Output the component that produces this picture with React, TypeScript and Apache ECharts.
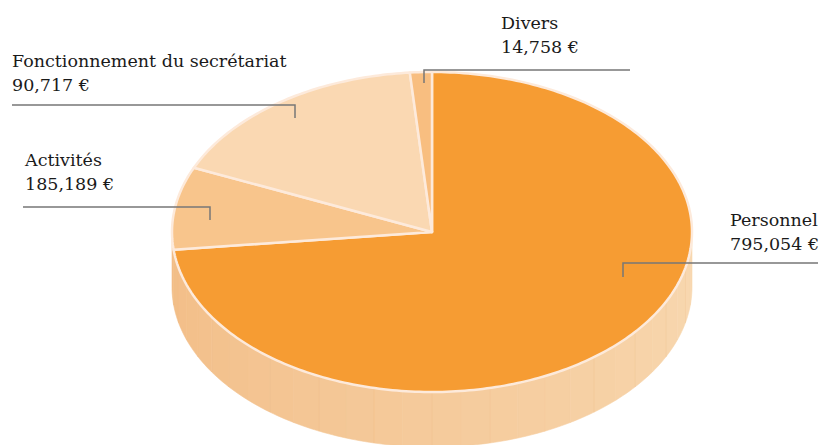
import React, { useEffect, useRef } from "react";
import * as echarts from "echarts";

// Data
const categories = ["Personnel", "Activités", "Fonctionnement du secrétariat", "Divers"];
const values = [795054, 185189, 90717, 14758];
// clockwise drawing order of slices starting at 12 o'clock (as in the reference picture)
const drawOrder = [0, 2, 1, 3];
const topColors = ["#f69c33", "#f8c58c", "#fad8b2", "#f8be80"];

// label layout (annotation positions)
const labelLayout = [
  { cat: 0, x: 730, y: 227, lineY: 263, x1: 818, x2: 623, drop: 14 },
  { cat: 1, x: 25, y: 167, lineY: 207, x1: 23, x2: 210, drop: 13 },
  { cat: 2, x: 12, y: 68, lineY: 105, x1: 12, x2: 295, drop: 13 },
  { cat: 3, x: 501, y: 30, lineY: 70, x1: 630, x2: 424, drop: 13 },
];

const DEPTH = 55;
const FONT = "'DejaVu Serif', serif";
const FONT_SIZE = 17.5;

function fmt(v: number) {
  return v.toLocaleString("en-US") + " €";
}

function lerpColor(a: string, b: string, t: number) {
  const pa = [1, 3, 5].map((i) => parseInt(a.slice(i, i + 2), 16));
  const pb = [1, 3, 5].map((i) => parseInt(b.slice(i, i + 2), 16));
  const c = pa.map((v, i) => Math.round(v + (pb[i] - v) * t));
  return "rgb(" + c.join(",") + ")";
}

export default function App() {
  const ref = useRef<HTMLDivElement>(null);
  useEffect(() => {
    if (!ref.current) return;
    const chart = echarts.init(ref.current, undefined, { renderer: "svg" });
    const total = values.reduce((s, v) => s + v, 0);
    let acc = 0;
    const sliceData = drawOrder.map((ci, pos) => {
      const start = (acc / total) * 360;
      acc += values[ci];
      const end = (acc / total) * 360;
      return [start, end, pos];
    });

    const ptFn = (api: any) => (deg: number, dy = 0) => {
      const r = (deg * Math.PI) / 180;
      const p = api.coord([Math.sin(r), Math.cos(r)]);
      return [p[0], p[1] + dy];
    };

    const renderTop = (params: any, api: any) => {
      const start = api.value(0);
      const end = api.value(1);
      const pos = api.value(2);
      const pt = ptFn(api);
      const c = api.coord([0, 0]);
      const pts: number[][] = [c];
      const n = Math.max(2, Math.ceil((end - start) / 1));
      for (let i = 0; i <= n; i++) pts.push(pt(start + ((end - start) * i) / n));
      return {
        type: "polygon",
        shape: { points: pts },
        style: { fill: topColors[pos], stroke: "#fdeadb", lineWidth: 2.5, lineJoin: "round" },
      };
    };

    const renderSide = (params: any, api: any) => {
      const start = api.value(0);
      const end = api.value(1);
      const pt = ptFn(api);
      const a = Math.max(start, 90);
      const b = Math.min(end, 270);
      const children: any[] = [];
      if (a < b) {
        const step = 6.5;
        const k = Math.max(1, Math.round((b - a) / step));
        for (let j = 0; j < k; j++) {
          const t0 = a + ((b - a) * j) / k;
          const t1 = a + ((b - a) * (j + 1)) / k;
          const topPts: number[][] = [];
          const m = 6;
          for (let i = 0; i <= m; i++) topPts.push(pt(t0 + ((t1 - t0) * i) / m));
          const botPts = topPts.map((p) => [p[0], p[1] + DEPTH]).reverse();
          const mid = (t0 + t1) / 2;
          const tt = (270 - mid) / 180;
          const fill = lerpColor("#f2bd86", "#f8d8b1", tt);
          children.push({
            type: "polygon",
            shape: { points: topPts.concat(botPts) },
            style: { fill, stroke: fill, lineWidth: 0.6 },
          });
          if (j > 0 && j % 2 === 0) {
            const p = topPts[0];
            children.push({
              type: "line",
              shape: { x1: p[0], y1: p[1], x2: p[0], y2: p[1] + DEPTH },
              style: { stroke: "#f0b57a", lineWidth: 0.6, opacity: 0.35 },
            });
          }
        }
      }
      return { type: "group", children };
    };

    const graphics: any[] = [];
    const textStyle = {
      fontFamily: FONT,
      fontSize: FONT_SIZE,
      fill: "#1a1a1a",
      verticalAlign: "bottom",
      align: "left",
    };
    labelLayout.forEach((l) => {
      graphics.push({
        type: "text",
        x: l.x,
        y: l.y + 2,
        style: { ...textStyle, text: categories[l.cat] },
      });
      graphics.push({
        type: "text",
        x: l.x,
        y: l.y + 26,
        style: { ...textStyle, text: fmt(values[l.cat]) },
      });
      graphics.push({
        type: "polyline",
        shape: { points: [[l.x1, l.lineY], [l.x2, l.lineY], [l.x2, l.lineY + l.drop]] },
        style: { stroke: "#777777", lineWidth: 1.5, fill: null },
        z: 10,
      });
    });

    chart.setOption({
      animation: false,
      grid: { left: 172, top: 72, width: 520, height: 320 },
      xAxis: { type: "value", min: -1, max: 1, show: false },
      yAxis: { type: "value", min: -1, max: 1, show: false },
      series: [
        {
          type: "custom",
          coordinateSystem: "cartesian2d",
          renderItem: renderSide,
          data: sliceData,
          encode: { x: -1, y: -1 },
          clip: false,
          silent: true,
          z: 1,
        },
        {
          type: "custom",
          coordinateSystem: "cartesian2d",
          renderItem: renderTop,
          data: sliceData,
          encode: { x: -1, y: -1 },
          clip: false,
          silent: true,
          z: 2,
        },
      ],
      graphic: graphics,
    });
    return () => chart.dispose();
  }, []);
  return (
    <div
      ref={ref}
      style={{ position: "fixed", left: 0, top: 0, width: 822, height: 445, background: "#fff" }}
    />
  );
}
